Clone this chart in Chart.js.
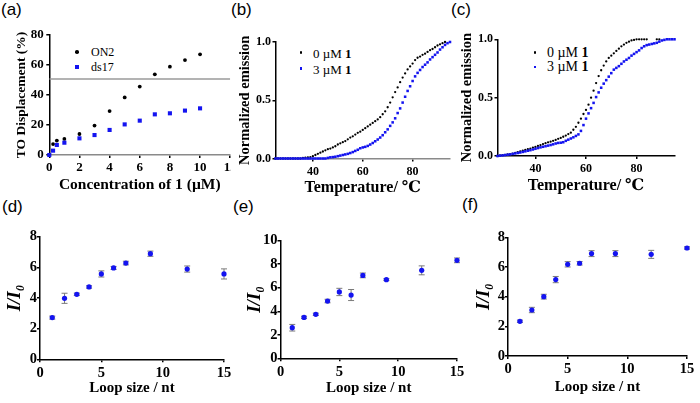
<!DOCTYPE html>
<html><head><meta charset="utf-8">
<script src="https://cdn.jsdelivr.net/npm/chart.js@4.4.0/dist/chart.umd.min.js"></script>
<style>
html,body{margin:0;padding:0;background:#fff;width:700px;height:403px;overflow:hidden;position:relative;}
.pn{position:absolute;overflow:hidden;}
.pn canvas{position:absolute;left:0;top:0;}
.lab{position:absolute;font-family:'Liberation Sans',Arial,sans-serif;font-size:17px;line-height:1;color:#000;}
.leg{position:absolute;font-family:'Liberation Serif','Times New Roman',serif;color:#000;line-height:1;white-space:nowrap;transform:translateY(-50%);}
.mk{position:absolute;}
</style></head><body>
<div class="lab" style="left:1px;top:1px">(a)</div>
<div class="lab" style="left:231px;top:1px">(b)</div>
<div class="lab" style="left:451px;top:1px">(c)</div>
<div class="lab" style="left:2px;top:198px">(d)</div>
<div class="lab" style="left:233px;top:198px">(e)</div>
<div class="lab" style="left:462px;top:196px">(f)</div>

<div class="mk" style="left:75.2px;top:50.2px;width:3.6px;height:3.6px;border-radius:50%;background:#000"></div>
<div class="leg" style="left:91px;top:52px;font-size:12px">ON2</div>
<div class="mk" style="left:75px;top:65px;width:4px;height:4px;background:#1414f0"></div>
<div class="leg" style="left:91px;top:67px;font-size:12px">ds17</div>

<div class="mk" style="left:300px;top:51.2px;width:2.4px;height:2.4px;border-radius:50%;background:#000"></div>
<div class="leg" style="left:313px;top:52.5px;font-size:13px">0 µM <b>1</b></div>
<div class="mk" style="left:299.8px;top:67px;width:2.6px;height:2.6px;background:#1414f0"></div>
<div class="leg" style="left:313px;top:68.5px;font-size:13px">3 µM <b>1</b></div>

<div class="mk" style="left:534px;top:51.2px;width:2.4px;height:2.4px;border-radius:50%;background:#000"></div>
<div class="leg" style="left:547px;top:52.5px;font-size:14px">0 µM <b>1</b></div>
<div class="mk" style="left:533.8px;top:65.5px;width:2.6px;height:2.6px;background:#1414f0"></div>
<div class="leg" style="left:547px;top:67px;font-size:14px">3 µM <b>1</b></div>

<script>
const SERIF = "'Liberation Serif', 'Times New Roman', 'DejaVu Serif', serif";
const BLUE = '#1414f0';
Chart.defaults.font.family = SERIF;
Chart.defaults.font.weight = 'bold';
Chart.defaults.color = '#000';

// ---- panel (a) ----
const concA = [0, 0.25, 0.5, 1, 2, 3, 4, 5, 6, 7, 8, 9, 10];
const on2   = [0, 7.3, 9.6, 10.7, 14, 19.6, 29.3, 38.4, 45.6, 53.8, 58.9, 63.3, 67.1];
const ds17  = [0, 2.9, 6.7, 8.2, 11.1, 13.3, 16.7, 20.4, 22.9, 27.1, 27.8, 29.6, 31.1];
const halfLine = 50.7;

// ---- panels (b), (c) ----
const temps = [25,26,27,28,29,30,31,32,33,34,35,36,37,38,39,40,41,42,43,44,45,46,47,48,49,50,51,52,53,54,55,56,57,58,59,60,61,62,63,64,65,66,67,68,69,70,71,72,73,74,75,76,77,78,79,80,81,82,83,84,85,86,87,88,89,90,91,92,93,94,95];
const bZero = [0,0,0,0,0,0,0,0,0,0,0, 0.005,0.008,0.01,0.012,0.02,0.03,0.04,0.05,0.06,0.07, 0.08,0.085,0.095,0.105,0.12,0.13,0.14,0.15,0.165,0.18, 0.19,0.205,0.22,0.23,0.245,0.26,0.275,0.29,0.305,0.32, 0.335,0.355,0.38,0.405,0.44,0.48,0.525,0.57,0.61,0.655, 0.695,0.73,0.765,0.79,0.815,0.845,0.865,0.875,0.89,0.9, 0.915,0.93,0.94,0.955,0.97,0.98,0.99,1.0,null,null];
const bThree = [0,0,0,0,0,0,0,0,0,0,0, 0,0,0,0,0,0,0,0,0,0, 0.005,0.01,0.012,0.015,0.02,0.025,0.03,0.035,0.04,0.047, 0.055,0.065,0.075,0.088,0.095,0.1,0.108,0.12,0.133,0.148, 0.163,0.18,0.2,0.225,0.25,0.28,0.31,0.345,0.39,0.43, 0.48,0.53,0.58,0.62,0.665,0.705,0.735,0.76,0.785,0.805, 0.825,0.85,0.87,0.89,0.91,0.935,0.955,0.975,0.99,1.0];
const cZero = [0,0.005,0.008,0.01,0.013,0.016,0.02,0.027,0.034,0.04,0.045, 0.052,0.058,0.064,0.072,0.078,0.086,0.094,0.102,0.11,0.117, 0.123,0.13,0.138,0.147,0.155,0.165,0.175,0.188,0.2,0.225, 0.25,0.285,0.32,0.36,0.395,0.44,0.5,0.56,0.625,0.685, 0.735,0.775,0.81,0.84,0.86,0.88,0.9,0.92,0.94,0.955, 0.97,0.98,0.99,0.995,1.0,1.0,1.0,1.0,1.0,null, null,null,1.0,1.0,null,null,null,null,null,null];
const cThree = [0,0.003,0.005,0.008,0.011,0.014,0.018,0.022,0.026,0.03,0.035, 0.04,0.045,0.05,0.056,0.062,0.068,0.074,0.079,0.084,0.089, 0.094,0.1,0.107,0.112,0.114,0.118,0.13,0.14,0.15,0.16, 0.172,0.185,0.215,0.265,0.32,0.365,0.41,0.455,0.505,0.545, 0.585,0.62,0.65,0.68,0.71,0.74,0.755,0.77,0.79,0.81, 0.825,0.84,0.86,0.875,0.89,0.905,0.925,0.94,0.95,0.955, 0.96,0.965,0.97,0.98,0.99,0.995,1.0,1.0,1.0,1.0];
const tempTicks = [40, 60, 80];

// ---- panels (d), (e), (f) ----
const loops = [1, 2, 3, 4, 5, 6, 7, 9, 12, 15];
const dVal = [2.72, 3.98, 4.24, 4.72, 5.57, 5.96, 6.28, 6.89, 5.89, 5.57];
const dErr = [0.1, 0.33, 0.08, 0.08, 0.2, 0.1, 0.12, 0.17, 0.2, 0.33];
const eVal = [2.6, 3.48, 3.74, 4.87, 5.64, 5.38, 7.05, 6.69, 7.48, 8.33];
const eErr = [0.28, 0.1, 0.1, 0.15, 0.31, 0.47, 0.2, 0.08, 0.38, 0.2];
const fVal = [2.34, 3.1, 4.0, 5.15, 6.18, 6.25, 6.9, 6.9, 6.85, 7.28];
const fErr = [0.08, 0.18, 0.16, 0.21, 0.18, 0.12, 0.2, 0.2, 0.27, 0.08];

const pts = (xs, ys) => xs.map((x, i) => ({x: x, y: ys[i]}));

const errPlugin = {
  id: 'errbars',
  beforeDatasetsDraw(chart, args, opts) {
    if (!opts || !opts.err) return;
    const ctx = chart.ctx, xs = chart.scales.x, ys = chart.scales.y;
    const data = chart.data.datasets[0].data;
    ctx.save();
    ctx.strokeStyle = opts.color; ctx.lineWidth = 1;
    data.forEach((p, i) => {
      const e = opts.err[i]; if (!e) return;
      const px = xs.getPixelForValue(p.x);
      const y1 = ys.getPixelForValue(p.y + e), y2 = ys.getPixelForValue(p.y - e);
      ctx.beginPath();
      ctx.moveTo(px, y1); ctx.lineTo(px, y2);
      ctx.moveTo(px - opts.cap, y1); ctx.lineTo(px + opts.cap, y1);
      ctx.moveTo(px - opts.cap, y2); ctx.lineTo(px + opts.cap, y2);
      ctx.stroke();
    });
    ctx.restore();
  }
};

function axis(o) {
  const lh = o.tfs * 1.2;
  const ax = {
    type: 'linear', min: o.min, max: o.max,
    border: {display: true, color: o.axisColor || '#000', width: 1.5},
    grid: {display: true, drawOnChartArea: false, drawTicks: true, tickLength: o.tl, color: '#000', lineWidth: 1.5},
    ticks: {stepSize: o.step, color: '#000', font: {family: SERIF, size: o.fs, weight: 'bold'}, padding: o.pad, autoSkip: false, maxRotation: 0},
    title: {display: true, text: o.title, color: '#000',
      font: {family: SERIF, size: o.tfs, weight: 'bold', style: o.italic ? 'italic' : 'normal', lineHeight: 1.2},
      padding: o.horiz ? {top: 0, bottom: o.titleOff - lh / 2} : {top: o.titleOff - lh / 2, bottom: 0}},
    afterFit(s) {
      if (o.horiz) s.height = o.size; else s.width = o.size;
      s.paddingLeft = 0; s.paddingRight = 0; s.paddingTop = 0; s.paddingBottom = 0;
    }
  };
  if (o.cb) ax.ticks.callback = o.cb;
  if (o.ticksAt) ax.afterBuildTicks = (s) => { s.ticks = o.ticksAt.map(v => ({value: v})); };
  return ax;
}

function panel(p) {
  const wrap = document.createElement('div');
  wrap.className = 'pn';
  wrap.style.left = p.box.l + 'px'; wrap.style.top = p.box.t + 'px';
  wrap.style.width = (p.box.clipW || p.box.w) + 'px'; wrap.style.height = p.box.h + 'px';
  const cv = document.createElement('canvas');
  cv.width = p.box.w; cv.height = p.box.h;
  cv.style.width = p.box.w + 'px'; cv.style.height = p.box.h + 'px';
  wrap.appendChild(cv); document.body.appendChild(wrap);
  const boxR = p.box.l + p.box.w, boxB = p.box.t + p.box.h;
  p.x.horiz = true;
  p.x.size = boxB - p.plot.b;
  p.x.titleOff = boxB - p.xTitleY;
  p.y.size = p.plot.l - p.box.l;
  p.y.titleOff = p.yTitleX - p.box.l;
  const pluginOpts = {legend: {display: false}, tooltip: {enabled: false}};
  if (p.err) pluginOpts.errbars = p.err;
  new Chart(cv, {
    type: 'scatter',
    data: {datasets: p.datasets},
    options: {
      responsive: false, animation: false, devicePixelRatio: 1,
      layout: {padding: {left: 0, top: p.plot.t - p.box.t, right: boxR - p.plot.r, bottom: 0}},
      scales: {x: axis(p.x), y: axis(p.y)},
      plugins: pluginOpts
    },
    plugins: p.err ? [errPlugin] : []
  });
}

// (a)
panel({
  box: {l: 0, t: 28, w: 245, h: 170, clipW: 231},
  plot: {l: 49.3, t: 35, r: 230.2, b: 155},
  yTitleX: 21.7, xTitleY: 185,
  x: {min: 0, max: 12, step: 2, fs: 13, tl: 3, pad: 2, title: 'Concentration of 1 (µM)', tfs: 15.5, axisColor: '#8a8a8a'},
  y: {min: 0, max: 80, step: 20, fs: 13, tl: 3, pad: 2.5, title: 'TO Displacement (%)', tfs: 13.5},
  datasets: [
    {data: pts(concA, on2), pointStyle: 'circle', pointRadius: 1.9, backgroundColor: '#000', borderWidth: 0, order: 1, clip: false},
    {data: pts(concA, ds17), pointStyle: 'rect', pointRadius: 2.9, backgroundColor: BLUE, borderWidth: 0, order: 0, clip: false},
    {data: [{x: 0, y: halfLine}, {x: 12, y: halfLine}], showLine: true, pointRadius: 0, borderColor: '#9a9a9a', borderWidth: 1.5, order: 2}
  ]
});

// (b)
panel({
  box: {l: 232, t: 30, w: 230, h: 168},
  plot: {l: 275.5, t: 42, r: 450, b: 158.5},
  yTitleX: 245, xTitleY: 188,
  x: {min: 25, max: 95, fs: 12, tl: 3, pad: 3, title: 'Temperature/ ℃', tfs: 16, ticksAt: tempTicks, axisColor: '#8a8a8a'},
  y: {min: 0, max: 1, step: 0.5, fs: 12, tl: 3, pad: 1.5, title: 'Normalized emission', tfs: 14.5, cb: v => v.toFixed(1)},
  datasets: [
    {data: pts(temps, bZero), pointStyle: 'circle', pointRadius: 1.15, backgroundColor: '#000', borderWidth: 0, order: 1, clip: false},
    {data: pts(temps, bThree), pointStyle: 'rect', pointRadius: 1.8, backgroundColor: BLUE, borderWidth: 0, order: 0, clip: false}
  ]
});

// (c)
panel({
  box: {l: 455, t: 28, w: 240, h: 170},
  plot: {l: 497.5, t: 39.3, r: 674.5, b: 156},
  yTitleX: 467, xTitleY: 186,
  x: {min: 25, max: 95, fs: 12, tl: 3, pad: 3, title: 'Temperature/ ℃', tfs: 16, ticksAt: tempTicks},
  y: {min: 0, max: 1, step: 0.5, fs: 12, tl: 3, pad: 1.5, title: 'Normalized emission', tfs: 14.5, cb: v => v.toFixed(1)},
  datasets: [
    {data: pts(temps, cZero), pointStyle: 'circle', pointRadius: 1.15, backgroundColor: '#000', borderWidth: 0, order: 1, clip: false},
    {data: pts(temps, cThree), pointStyle: 'rect', pointRadius: 1.8, backgroundColor: BLUE, borderWidth: 0, order: 0, clip: false}
  ]
});

const loopPanel = (box, plot, yTitleX, xTitleY, ymax, vals, errs) => panel({
  box: box, plot: plot, yTitleX: yTitleX, xTitleY: xTitleY,
  x: {min: 0, max: 15, step: 5, fs: 14.5, tl: 3, pad: 2, title: 'Loop size / nt', tfs: 15},
  y: {min: 0, max: ymax, step: 2, fs: 14.5, tl: 3, pad: 0, title: 'I/I₀', tfs: 19, italic: true},
  datasets: [
    {data: pts(loops, vals), pointStyle: 'circle', pointRadius: 2.6, backgroundColor: BLUE, borderWidth: 0, clip: false}
  ],
  err: {err: errs, color: '#7a7a7a', cap: 3}
});

loopPanel({l: 0, t: 225, w: 232, h: 178}, {l: 40, t: 236.7, r: 224, b: 359.3}, 15, 388, 8, dVal, dErr);
loopPanel({l: 235, t: 225, w: 232, h: 178}, {l: 280.5, t: 240.7, r: 457, b: 358.3}, 255, 388, 10, eVal, eErr);
loopPanel({l: 465, t: 225, w: 235, h: 178}, {l: 508, t: 237.3, r: 687, b: 356}, 484, 387, 8, fVal, fErr);
</script>
</body></html>
